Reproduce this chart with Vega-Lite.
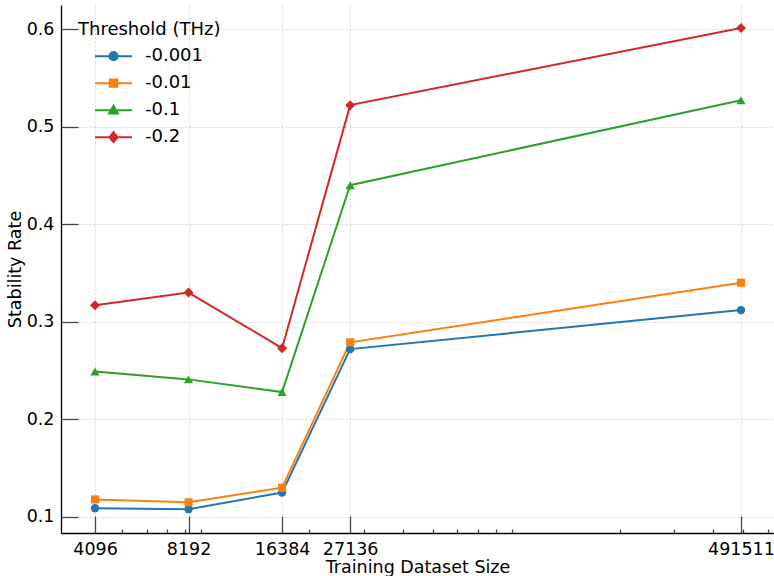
{
  "$schema": "https://vega.github.io/schema/vega-lite/v6.json",
  "width": 713,
  "height": 528,
  "autosize": {"type": "none"},
  "padding": {"left": 61, "top": 5, "right": 0, "bottom": 43},
  "background": "white",
  "config": {
    "view": {"stroke": null},
    "font": "DejaVu Sans",
    "axis": {
      "labelFont": "DejaVu Sans",
      "titleFont": "DejaVu Sans",
      "labelFontSize": 17.5,
      "titleFontSize": 17.5,
      "titleFontWeight": "normal",
      "labelColor": "black",
      "titleColor": "black",
      "domainColor": "black",
      "domainWidth": 1.3,
      "tickColor": "#444",
      "tickWidth": 1.3,
      "gridColor": "#cccccc",
      "gridDash": [2, 2],
      "gridWidth": 0.8
    }
  },
  "data": {
    "values": [
      {"size": 4096, "rate": 0.109, "series": "-0.001"},
      {"size": 8192, "rate": 0.108, "series": "-0.001"},
      {"size": 16384, "rate": 0.125, "series": "-0.001"},
      {"size": 27136, "rate": 0.272, "series": "-0.001"},
      {"size": 491511, "rate": 0.312, "series": "-0.001"},
      {"size": 4096, "rate": 0.118, "series": "-0.01"},
      {"size": 8192, "rate": 0.115, "series": "-0.01"},
      {"size": 16384, "rate": 0.130, "series": "-0.01"},
      {"size": 27136, "rate": 0.279, "series": "-0.01"},
      {"size": 491511, "rate": 0.340, "series": "-0.01"},
      {"size": 4096, "rate": 0.249, "series": "-0.1"},
      {"size": 8192, "rate": 0.241, "series": "-0.1"},
      {"size": 16384, "rate": 0.228, "series": "-0.1"},
      {"size": 27136, "rate": 0.440, "series": "-0.1"},
      {"size": 491511, "rate": 0.527, "series": "-0.1"},
      {"size": 4096, "rate": 0.317, "series": "-0.2"},
      {"size": 8192, "rate": 0.330, "series": "-0.2"},
      {"size": 16384, "rate": 0.273, "series": "-0.2"},
      {"size": 27136, "rate": 0.522, "series": "-0.2"},
      {"size": 491511, "rate": 0.601, "series": "-0.2"}
    ]
  },
  "encoding": {
    "x": {
      "field": "size",
      "type": "quantitative",
      "title": "Training Dataset Size",
      "scale": {"type": "log", "domain": [3183, 627800], "nice": false},
      "axis": {
        "values": [4096, 8192, 16384, 27136, 491511, 5000, 6000, 7000, 8000, 9000, 20000, 30000, 40000, 50000, 60000, 70000, 80000, 90000, 200000, 300000, 400000, 500000, 600000],
        "labelExpr": "indexof([4096, 8192, 16384, 27136, 491511], datum.value) >= 0 ? format(datum.value, 'd') : ''",
        "grid": true,
        "gridOpacity": {"condition": {"test": "indexof([4096, 8192, 16384, 27136, 491511], datum.value) >= 0", "value": 1}, "value": 0},
        "tickSize": {"condition": {"test": "indexof([4096, 8192, 16384, 27136, 491511], datum.value) >= 0", "value": -17}, "value": -4},
        "labelPadding": 24,
        "labelFlush": false,
        "labelOverlap": false,
        "titleY": 34,
        "titleBaseline": "middle"
      }
    },
    "y": {
      "field": "rate",
      "type": "quantitative",
      "title": "Stability Rate",
      "scale": {"domain": [0.0836, 0.6246], "nice": false, "zero": false},
      "axis": {
        "values": [0.1, 0.2, 0.3, 0.4, 0.5, 0.6],
        "format": ".1f",
        "grid": true,
        "tickSize": -17,
        "labelPadding": 24,
        "titleX": -46,
        "titleBaseline": "middle"
      }
    },
    "color": {
      "field": "series",
      "type": "nominal",
      "scale": {
        "domain": ["-0.001", "-0.01", "-0.1", "-0.2"],
        "range": ["#1f77b4", "#ff7f0e", "#2ca02c", "#d62728"]
      },
      "legend": {
        "title": "Threshold (THz)",
        "orient": "none",
        "legendX": 17,
        "legendY": 16,
        "padding": 0,
        "titleFont": "DejaVu Sans",
        "titleFontSize": 18,
        "titleFontWeight": "normal",
        "titleColor": "black",
        "titlePadding": 4,
        "labelFont": "DejaVu Sans",
        "labelFontSize": 18,
        "labelColor": "black",
        "symbolType": "M-1,0L1,0",
        "symbolSize": 1369,
        "symbolStrokeWidth": 2,
        "symbolOpacity": 1,
        "symbolOffset": 16,
        "labelOffset": 12,
        "clipHeight": 26.3,
        "rowPadding": 0,
        "encode": {
          "symbols": {
            "update": {
              "shape": {"signal": "datum.value === '-0.001' ? 'M-1,0L1,0M0.22,0A0.22,0.22,0,1,1,-0.22,0A0.22,0.22,0,1,1,0.22,0Z' : datum.value === '-0.01' ? 'M-1,0L1,0M-0.2,-0.2L0.2,-0.2L0.2,0.2L-0.2,0.2Z' : datum.value === '-0.1' ? 'M-1,0L1,0M0,-0.24L0.24,0.18L-0.24,0.18Z' : 'M-1,0L1,0M0,-0.27L0.22,0L0,0.27L-0.22,0Z'"},
              "fill": {"scale": "color", "field": "value"},
              "stroke": {"scale": "color", "field": "value"},
              "strokeWidth": {"value": 2},
              "opacity": {"value": 1}
            }
          }
        }
      }
    }
  },
  "layer": [
    {
      "mark": {"type": "line", "strokeWidth": 2}
    },
    {
      "transform": [{"filter": "datum.series === '-0.001'"}],
      "mark": {"type": "point", "filled": true, "opacity": 1, "shape": "circle", "size": 70}
    },
    {
      "transform": [{"filter": "datum.series === '-0.01'"}],
      "mark": {"type": "point", "filled": true, "opacity": 1, "shape": "square", "size": 66}
    },
    {
      "transform": [{"filter": "datum.series === '-0.1'"}],
      "mark": {"type": "point", "filled": true, "opacity": 1, "shape": "triangle-up", "size": 85}
    },
    {
      "transform": [{"filter": "datum.series === '-0.2'"}],
      "mark": {"type": "point", "filled": true, "opacity": 1, "shape": "diamond", "size": 100}
    }
  ]
}
